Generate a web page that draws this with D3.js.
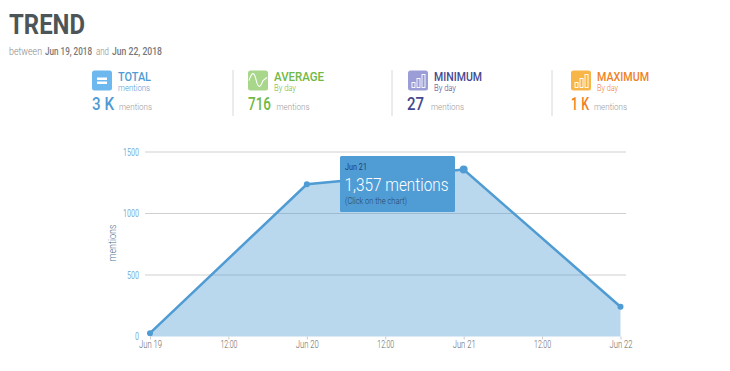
<!DOCTYPE html>
<html>
<head>
<meta charset="utf-8">
<style>
  html, body { margin: 0; padding: 0; background: #fff; }
  svg { display: block; }
  text { font-family: Roboto, sans-serif; }
  .domain { display: none; }
</style>
<script src="https://cdn.jsdelivr.net/npm/d3@7"></script>
</head>
<body>
<div class="canvas"></div>
<script>
/*---------------------------
  DATA
---------------------------*/
const days = ['2018-06-19', '2018-06-20', '2018-06-21', '2018-06-22'];
const mentions = [27, 1238, 1357, 242];
const yTicks = [0, 500, 1000, 1500];
const xTicks = ['2018-06-19T00', '2018-06-19T12', '2018-06-20T00', '2018-06-20T12', '2018-06-21T00', '2018-06-21T12', '2018-06-22T00'];
const xTickLabels = ['Jun 19', '12:00', 'Jun 20', '12:00', 'Jun 21', '12:00', 'Jun 22'];

const statNames = ['TOTAL', 'AVERAGE', 'MINIMUM', 'MAXIMUM'];
const statSubs = ['mentions', 'By day', 'By day', 'By day'];
const statValues = ['3 K', '716', '27', '1 K'];
const statColors = ['#4f9bd3', '#71b944', '#45478f', '#f0811f'];
const iconColors = ['#6db8ee', '#a8d68a', '#9a9dd6', '#f8b648'];

/*---------------------------
  VARIABLES
---------------------------*/
const statX = [92, 248, 408, 571];
const nameWidth = [33, 50, 48, 52];
const subWidth = [32, 22, 22, 21];
const valueWidth = [22, 23, 17, 18];
const unitX = [119, 276.5, 431, 594];
const dividerX = [233, 392, 552];

const svg = d3.select('.canvas')
  .append('svg')
  .attr('width', 730)
  .attr('height', 371);

// squeeze Roboto to the narrow widths of the original face
const fit = (sel, w) => sel
  .attr('textLength', w)
  .attr('lengthAdjust', 'spacingAndGlyphs');

const parseDay = d3.utcParse('%Y-%m-%d');
const parseHour = d3.utcParse('%Y-%m-%dT%H');
const data = days.map((d, i) => ({ date: parseDay(d), value: mentions[i] }));

const x = d3.scaleUtc()
  .domain([parseDay(days[0]), parseDay(days[3])])
  .range([150, 620.5]);

const y = d3.scaleLinear()
  .domain([0, 1500])
  .range([336.5, 152]);

/*---------------------------
  HEADER
---------------------------*/
svg.append('text')
  .attr('x', 9).attr('y', 34)
  .attr('fill', '#4d5559')
  .attr('font-size', 27)
  .attr('font-weight', 700)
  .call(fit, 76)
  .text('TREND');

const subParts = [
  { t: 'between', x: 9, w: 33, bold: false },
  { t: 'Jun 19, 2018', x: 45, w: 47, bold: true },
  { t: 'and', x: 96, w: 13, bold: false },
  { t: 'Jun 22, 2018', x: 112, w: 50, bold: true },
];
subParts.forEach((p) => {
  svg.append('text')
    .attr('x', p.x).attr('y', 55)
    .attr('font-size', 10)
    .attr('font-weight', p.bold ? 500 : 300)
    .attr('fill', p.bold ? '#777' : '#888')
    .call(fit, p.w)
    .text(p.t);
});

/*---------------------------
  STAT BOXES
---------------------------*/
svg.selectAll('.divider')
  .data(dividerX)
  .enter()
  .append('line')
  .attr('class', 'divider')
  .attr('x1', d => d).attr('x2', d => d)
  .attr('y1', 70).attr('y2', 116)
  .attr('stroke', '#d8d8d8');

const stat = svg.selectAll('.stat')
  .data(statNames)
  .enter()
  .append('g')
  .attr('class', 'stat')
  .attr('transform', (d, i) => `translate(${statX[i]}, 70.5)`);

stat.append('rect')
  .attr('width', 20).attr('height', 20)
  .attr('rx', 2.5)
  .attr('fill', (d, i) => iconColors[i]);

stat.append('text')
  .attr('x', 26).attr('y', 10)
  .attr('font-size', 12)
  .attr('font-weight', 500)
  .attr('fill', (d, i) => statColors[i])
  .attr('textLength', (d, i) => nameWidth[i])
  .attr('lengthAdjust', 'spacingAndGlyphs')
  .text(d => d);

stat.append('text')
  .attr('x', 26).attr('y', 20.5)
  .attr('font-size', 9)
  .attr('font-weight', 300)
  .attr('fill', (d, i) => statColors[i])
  .attr('textLength', (d, i) => subWidth[i])
  .attr('lengthAdjust', 'spacingAndGlyphs')
  .text((d, i) => statSubs[i]);

stat.append('text')
  .attr('x', (d, i) => (i === 2 ? -1 : 0)).attr('y', 39.5)
  .attr('font-size', 18)
  .attr('font-weight', 500)
  .attr('fill', (d, i) => statColors[i])
  .attr('textLength', (d, i) => valueWidth[i])
  .attr('lengthAdjust', 'spacingAndGlyphs')
  .text((d, i) => statValues[i]);

stat.append('text')
  .attr('x', (d, i) => unitX[i] - statX[i]).attr('y', 39.5)
  .attr('font-size', 9.5)
  .attr('font-weight', 300)
  .attr('fill', '#999')
  .call(fit, 33)
  .text('mentions');

// icon glyphs
stat.filter((d, i) => i === 0)
  .selectAll('.eq')
  .data([7, 11])
  .enter()
  .append('rect')
  .attr('x', 5).attr('y', d => d)
  .attr('width', 10).attr('height', 2.5)
  .attr('fill', '#fff');

stat.filter((d, i) => i === 1)
  .append('path')
  .attr('d', 'M1,10 C4,1 6,1 8,9 C10,18 12,18 15,10 L19,7')
  .attr('fill', 'none')
  .attr('stroke', '#fff')
  .attr('stroke-width', 1.1);

stat.filter((d, i) => i >= 2)
  .selectAll('.bar')
  .data([[4, 12], [9, 8], [14, 4]])
  .enter()
  .append('rect')
  .attr('x', d => d[0]).attr('y', d => d[1])
  .attr('width', 3).attr('height', d => 17 - d[1])
  .attr('fill', 'none')
  .attr('stroke', '#fff')
  .attr('stroke-width', 0.9);

/*---------------------------
  CHART
---------------------------*/
const yAxis = svg.append('g')
  .attr('transform', 'translate(145, 0)')
  .call(d3.axisLeft(y).tickValues(yTicks).tickFormat(d3.format('d')).tickSize(0).tickPadding(6));
yAxis.selectAll('text')
  .attr('fill', '#7fb2d9')
  .attr('font-size', 10)
  .style('font-family', 'Roboto, sans-serif')
  .attr('textLength', d => (d >= 1000 ? 16 : d > 0 ? 12 : 4))
  .attr('lengthAdjust', 'spacingAndGlyphs');

svg.append('g')
  .selectAll('line')
  .data(yTicks.filter(d => d > 0))
  .enter()
  .append('line')
  .attr('x1', 145).attr('x2', 626)
  .attr('y1', d => y(d)).attr('y2', d => y(d))
  .attr('stroke', '#cfcfcf');

svg.append('text')
  .attr('transform', 'translate(116, 243) rotate(-90)')
  .attr('text-anchor', 'middle')
  .attr('font-size', 10)
  .attr('font-weight', 300)
  .attr('fill', '#4f7595')
  .call(fit, 37)
  .text('mentions');

const area = d3.area()
  .x(d => x(d.date))
  .y0(y(0))
  .y1(d => y(d.value));

const line = d3.line()
  .x(d => x(d.date))
  .y(d => y(d.value));

svg.append('path')
  .datum(data)
  .attr('d', area)
  .attr('fill', '#4f9bd3')
  .attr('fill-opacity', 0.4);

svg.append('path')
  .datum(data)
  .attr('d', line)
  .attr('fill', 'none')
  .attr('stroke', '#4f9bd3')
  .attr('stroke-width', 2.5);

svg.selectAll('.point')
  .data(data)
  .enter()
  .append('circle')
  .attr('class', 'point')
  .attr('cx', d => x(d.date))
  .attr('cy', d => y(d.value))
  .attr('r', (d, i) => (i === 2 ? 4 : 3))
  .attr('fill', '#4f9bd3');

const xAxis = svg.append('g')
  .attr('transform', `translate(0, ${y(0)})`)
  .call(d3.axisBottom(x)
    .tickValues(xTicks.map(parseHour))
    .tickFormat((d, i) => xTickLabels[i])
    .tickSize(3)
    .tickPadding(1));
xAxis.selectAll('line').attr('stroke', '#ccc');
xAxis.selectAll('text')
  .attr('fill', '#666')
  .attr('font-size', 10)
  .attr('font-weight', 300)
  .style('font-family', 'Roboto, sans-serif')
  .attr('textLength', (d, i) => (i % 2 ? 17 : 23))
  .attr('lengthAdjust', 'spacingAndGlyphs');

/*---------------------------
  TOOLTIP
---------------------------*/
const tip = svg.append('g')
  .attr('transform', 'translate(340, 156)');

tip.append('rect')
  .attr('width', 115).attr('height', 56)
  .attr('rx', 1.5)
  .attr('fill', '#509dd6');

tip.append('text')
  .attr('x', 5).attr('y', 13.5)
  .attr('font-size', 9.5)
  .attr('fill', '#24435c')
  .call(fit, 22)
  .text('Jun 21');

tip.append('text')
  .attr('x', 4.5).attr('y', 35)
  .attr('font-size', 18)
  .attr('font-weight', 300)
  .attr('fill', '#fff')
  .call(fit, 104)
  .text(`${d3.format(',')(mentions[2])} mentions`);

tip.append('text')
  .attr('x', 5).attr('y', 47.5)
  .attr('font-size', 8.5)
  .attr('font-weight', 300)
  .attr('fill', '#24435c')
  .call(fit, 62)
  .text('(Click on the chart)');
</script>
</body>
</html>
